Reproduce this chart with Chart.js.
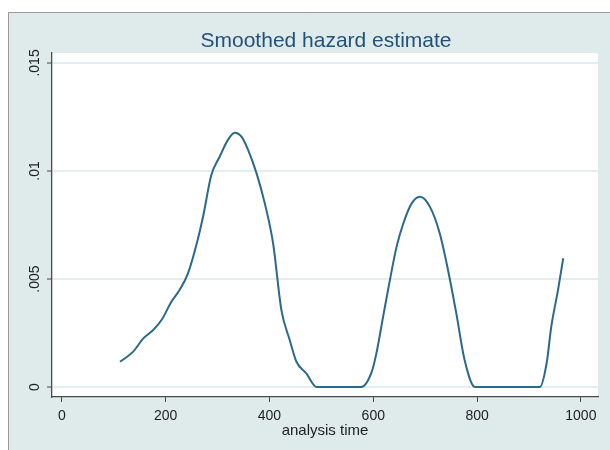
<!DOCTYPE html>
<html>
<head>
<meta charset="utf-8">
<script src="https://cdn.jsdelivr.net/npm/chart.js@4/dist/chart.umd.min.js"></script>
<style>
  html, body { margin: 0; padding: 0; background: #ffffff; }
  canvas { display: block; }
</style>
</head>
<body>
<canvas id="c" width="610" height="450"></canvas>
<script>
// ---- data ----
const analysisTime = [112, 137, 157, 176, 192, 211, 227, 243, 260, 272, 288, 304, 320, 333, 346, 359, 375, 391, 407, 423, 439, 452, 471, 491,
                      577, 597, 606, 619, 632, 645, 658, 674, 690, 709, 728, 744, 760, 776, 796,
                      921, 934, 943, 956, 966];
const hazard = [0.00117, 0.00163, 0.00225, 0.00264, 0.0031, 0.00395, 0.0045, 0.00526, 0.00665, 0.00788, 0.00981, 0.01066, 0.01144, 0.01177, 0.01159, 0.01097, 0.0099, 0.0085, 0.00665, 0.00356, 0.00218, 0.00117, 0.00063, 0,
                0, 0.0007, 0.00156, 0.00326, 0.00495, 0.0065, 0.00758, 0.0085, 0.00881, 0.00835, 0.00712, 0.00542, 0.00341, 0.00125, 0,
                0, 0.0011, 0.0028, 0.0045, 0.00596];
const xTicks = [0, 200, 400, 600, 800, 1000];
const xTickLabels = ['0', '200', '400', '600', '800', '1000'];
const yTicks = [0, 0.005, 0.01, 0.015];
const yTickLabels = ['0', '.005', '.01', '.015'];
const titleText = 'Smoothed hazard estimate';
const xTitleText = 'analysis time';

const points = analysisTime.map((t, i) => ({ x: t, y: hazard[i] }));

const FONT = '"Liberation Sans", Arial, Helvetica, sans-serif';

const backgroundPlugin = {
  id: 'stataBg',
  beforeDraw(chart) {
    const ctx = chart.ctx;
    const a = chart.chartArea;
    ctx.save();
    ctx.fillStyle = '#ffffff';
    ctx.fillRect(0, 0, chart.width, chart.height);
    // graph region
    ctx.fillStyle = '#dfeaea';
    ctx.fillRect(8, 12, chart.width - 8, chart.height - 12);
    ctx.strokeStyle = '#9a9a9a';
    ctx.lineWidth = 1;
    ctx.beginPath();
    ctx.moveTo(8.5, chart.height);
    ctx.lineTo(8.5, 12.5);
    ctx.lineTo(chart.width, 12.5);
    ctx.stroke();
    // plot region
    ctx.fillStyle = '#ffffff';
    ctx.fillRect(a.left, a.top, a.right - a.left, a.bottom - a.top);
    // title
    ctx.fillStyle = '#22527a';
    ctx.font = '21px ' + FONT;
    ctx.textAlign = 'center';
    ctx.textBaseline = 'alphabetic';
    ctx.fillText(titleText, (a.left + a.right) / 2 + 1, 47);
    ctx.restore();
  }
};

new Chart(document.getElementById('c'), {
  type: 'scatter',
  data: {
    datasets: [{
      data: points,
      showLine: true,
      borderColor: '#2a688c',
      borderWidth: 2,
      pointRadius: 0,
      pointHoverRadius: 0,
      tension: 0.3,
      cubicInterpolationMode: 'monotone',
      fill: false
    }]
  },
  options: {
    responsive: false,
    devicePixelRatio: 1,
    animation: false,
    layout: { padding: { left: 0, top: 53, right: 12, bottom: 0 } },
    plugins: {
      legend: { display: false },
      title: { display: false },
      tooltip: { enabled: false }
    },
    scales: {
      x: {
        type: 'linear',
        position: 'bottom',
        min: -19,
        max: 1033,
        afterBuildTicks: s => { s.ticks = xTicks.map(v => ({ value: v })); },
        afterFit: s => { s.height = 53; },
        ticks: {
          callback: (v) => { const i = xTicks.indexOf(v); return i >= 0 ? xTickLabels[i] : ''; },
          color: '#1e1e1e',
          font: { family: FONT, size: 14 },
          padding: 6,
          maxRotation: 0,
          minRotation: 0
        },
        grid: {
          drawOnChartArea: false,
          drawTicks: true,
          tickLength: 5,
          tickColor: '#444444',
          tickWidth: 1
        },
        border: { display: true, color: '#4a4a4a', width: 1.3 },
        title: {
          display: true,
          text: xTitleText,
          color: '#1e1e1e',
          font: { family: FONT, size: 15 },
          padding: { top: 0, bottom: 10 }
        }
      },
      y: {
        type: 'linear',
        position: 'left',
        min: -0.00046,
        max: 0.01546,
        afterBuildTicks: s => { s.ticks = yTicks.map(v => ({ value: v })); },
        afterFit: s => { s.width = 52; },
        ticks: {
          callback: (v) => { const i = yTicks.indexOf(v); return i >= 0 ? yTickLabels[i] : ''; },
          color: '#1e1e1e',
          font: { family: FONT, size: 14 },
          minRotation: 90,
          maxRotation: 90,
          crossAlign: 'center',
          padding: -2
        },
        grid: {
          drawOnChartArea: true,
          color: '#e3eeee',
          lineWidth: 2,
          drawTicks: true,
          tickLength: 5,
          tickColor: '#444444',
          tickWidth: 1
        },
        border: { display: true, color: '#4a4a4a', width: 1.3 }
      }
    }
  },
  plugins: [backgroundPlugin]
});
</script>
</body>
</html>
